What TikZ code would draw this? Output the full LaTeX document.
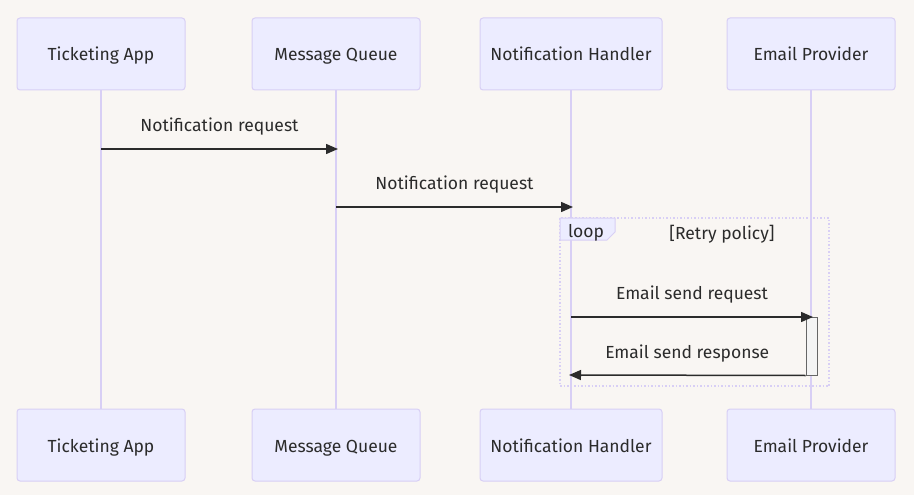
\documentclass[tikz,border=0pt]{standalone}
\usepackage{fontspec}
\setmainfont{Fira Sans}
\usetikzlibrary{arrows.meta}
\definecolor{bgc}{HTML}{F9F6F3}
\definecolor{actfill}{HTML}{ECECFF}
\definecolor{actline}{HTML}{D8CFF5}
\definecolor{txt}{HTML}{2B2B2B}
\definecolor{actvfill}{HTML}{F4F4F4}
\definecolor{actvline}{HTML}{666666}
\begin{document}
\begin{tikzpicture}[x=1pt,y=-1pt,
  actor/.style={draw=actline, fill=actfill, rounded corners=3pt, line width=1pt,
    minimum width=168pt, minimum height=72pt, text=txt, text height=14pt, text depth=0pt,
    font=\fontsize{17.5}{20}\selectfont},
  life/.style={draw=actline, line width=1.5pt},
  msg/.style={draw=txt, line width=1.5pt, -{Triangle[length=12pt,width=10pt]}},
  lbl/.style={text=txt, text height=12pt, text depth=4pt, font=\fontsize{17.5}{20}\selectfont},
  loopbox/.style={draw=actline, line width=1.5pt, dotted}]
\useasboundingbox [fill=bgc] (0,0) rectangle (914,495);
% actors, top
\node [actor] (ta) at (101,54) {Ticketing App};
\node [actor] (mq) at (336,54) {Message Queue};
\node [actor, minimum width=182pt] (nh) at (571,54) {Notification Handler};
\node [actor] (ep) at (811,54) {Email Provider};
% actors, bottom
\node [actor] (tab) at (101,445) {Ticketing App};
\node [actor] (mqb) at (336,445) {Message Queue};
\node [actor, minimum width=182pt] (nhb) at (571,445) {Notification Handler};
\node [actor] (epb) at (811,445) {Email Provider};
% lifelines
\draw [life] (ta.south) -- (tab.north);
\draw [life] (mq.south) -- (mqb.north);
\draw [life] (nh.south) -- (nhb.north);
\draw [life] (ep.south) -- (epb.north);
% loop
\draw [loopbox] (560,218) rectangle (829,386);
\draw [draw=actline, fill=actfill, line width=1pt] (560,218) -- (615,218) -- (615,232) -- (607,240) -- (560,240) -- cycle;
\node [lbl] (looplbl) at (586,233) {loop};
\node [lbl] (retry) at (722,235) {[Retry policy]};
% message points
\coordinate (ta1) at (101,149);
\coordinate (mq1) at (338,149);
\coordinate (mq2) at (336,207);
\coordinate (nh2) at (573,207);
\coordinate (nh3) at (571,317);
\coordinate (ep3) at (813,317);
\coordinate (nh4) at (569,375);
% activation
\node [draw=actvline, fill=actvfill, line width=1pt, minimum width=11pt, minimum height=58pt, inner sep=0pt] (act) at (811.5,346) {};
% messages
\draw [msg] (ta1) -- node [lbl, above=9pt] {Notification request} (mq1);
\draw [msg] (mq2) -- node [lbl, above=9pt] {Notification request} (nh2);
\draw [msg] (nh3) -- node [lbl, above=9pt] {Email send request} (ep3);
\draw [msg] (act.south west) -- node [lbl, above=9pt] {Email send response} (nh4);
\end{tikzpicture}
\end{document}
